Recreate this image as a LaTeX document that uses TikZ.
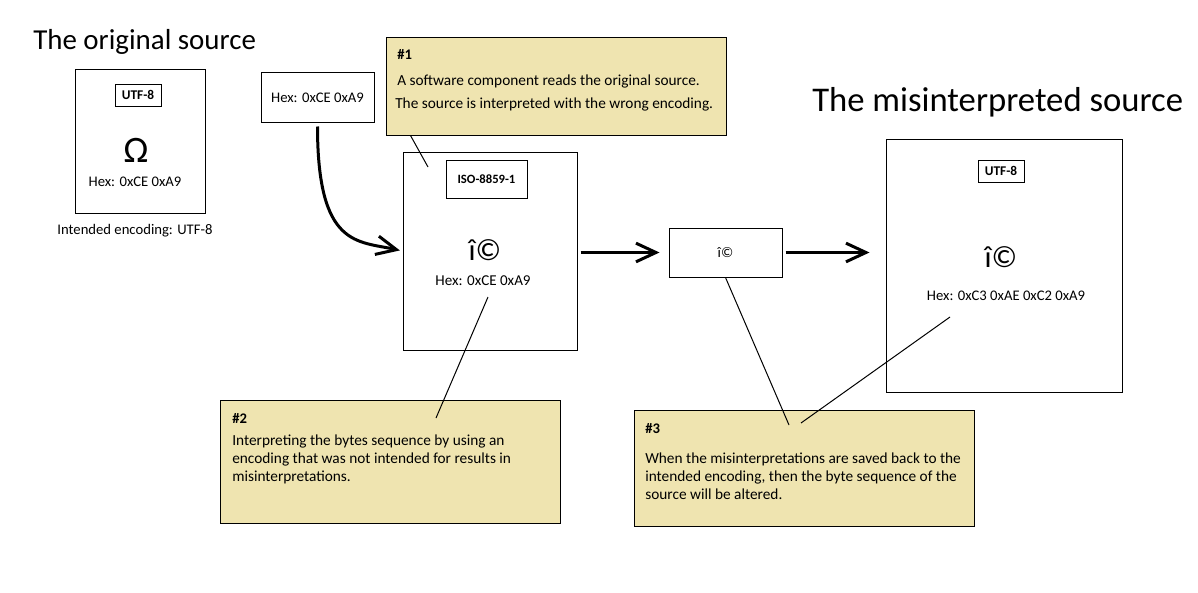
\documentclass[tikz,border=0pt]{standalone}
\usepackage{fontspec}
\setmainfont{Carlito}
\usetikzlibrary{arrows.meta, positioning}
\definecolor{notetan}{RGB}{239,228,176}

\begin{document}
\begin{tikzpicture}[x=0.75pt, y=-0.75pt,
    box/.style={draw, rectangle, line width=0.75pt, inner sep=0pt},
    lblbox/.style={box, font=\fontsize{10}{12}\selectfont\bfseries},
    notebox/.style={box, fill=notetan},
    txt/.style={font=\fontsize{11}{13}\selectfont, inner sep=0pt},
    notetxt/.style={font=\fontsize{11.5}{13.5}\selectfont, inner sep=0pt, anchor=north west, align=left},
    notehead/.style={font=\fontsize{11}{13}\selectfont\bfseries, inner sep=0pt, anchor=west},
    bigchar/.style={font=\fontsize{28}{30}\selectfont, inner sep=0pt},
    flow/.style={line width=2.25pt, -{Straight Barb[length=15pt, width=14pt]}},
    leader/.style={line width=0.75pt}]
    \useasboundingbox (0,0) rectangle (1198,592);

    \node (origtitle) [anchor=west, inner sep=0pt, font=\fontsize{21.7}{24}\selectfont] at (33,42) {The original source};
    \node (orig) [box, minimum width=97.5pt, minimum height=107.25pt] at (140,141.5) {};
    \node (origlbl) [lblbox, minimum width=34.5pt, minimum height=16.5pt] at (138,95) {UTF-8};
    \node (origchar) [bigchar] at (136,150) {Ω};
    \node (orighex) [txt] at (135,182) {Hex: 0xCE 0xA9};
    \node (intended) [txt] at (135,231) {Intended encoding: UTF-8};

    \node (hexbox) [box, txt, minimum width=84.75pt, minimum height=36.75pt] at (317.5,97.5) {Hex: 0xCE 0xA9};

    \node (note1) [notebox, minimum width=255pt, minimum height=72.75pt] at (556,86.5) {};
    \node (note1head) [notehead] at (397,54) {\#1};
    \node (note1a) [notetxt, anchor=west] at (397,81) {A software component reads the original source.};
    \node (note1b) [notetxt, anchor=west] at (395,104) {The source is interpreted with the wrong encoding.};

    \node (iso) [box, minimum width=130.5pt, minimum height=148.5pt] at (490,251) {};
    \node (isolbl) [lblbox, font=\fontsize{9.5}{12}\selectfont\bfseries, minimum width=60.75pt, minimum height=28.5pt] at (486.5,179) {ISO-8859-1};
    \node (isochar) [bigchar, font=\fontsize{23}{26}\selectfont] at (485,250) {î©};
    \node (isohex) [txt, font=\fontsize{11.3}{13}\selectfont] at (483,281) {Hex: 0xCE 0xA9};

    \node (mid) [box, txt, minimum width=84.75pt, minimum height=36.75pt] at (725.5,252.5) {î©};

    \node (restitle) [anchor=west, inner sep=0pt, font=\fontsize{26}{30}\selectfont] at (812,102) {The misinterpreted source};
    \node (res) [box, minimum width=177pt, minimum height=189.75pt] at (1004,265.5) {};
    \node (reslbl) [lblbox, minimum width=34.5pt, minimum height=16.5pt] at (1001,171) {UTF-8};
    \node (reschar) [bigchar, font=\fontsize{23}{26}\selectfont] at (1001,257) {î©};
    \node (reshex) [txt] at (1006,296) {Hex: 0xC3 0xAE 0xC2 0xA9};

    \node (note2) [notebox, minimum width=255pt, minimum height=92.25pt] at (390,461.5) {};
    \node (note2head) [notehead] at (232,418) {\#2};
    \node (note2txt) [notetxt] at (232,435) {Interpreting the bytes sequence by using an\\encoding that was not intended for results in\\misinterpretations.};

    \node (note3) [notebox, minimum width=255pt, minimum height=87pt] at (804,468) {};
    \node (note3head) [notehead] at (645,429) {\#3};
    \node (note3txt) [notetxt] at (645,453) {When the misinterpretations are saved back to the\\intended encoding, then the byte sequence of the\\source will be altered.};

    \draw [flow, shorten <=3pt, shorten >=2pt] (hexbox.south) .. controls +(0,125) and +(-45,-10) .. (iso.west);
    \draw [flow, shorten <=2.25pt, shorten >=6.75pt] (iso.east |- mid.west) -- (mid.west);
    \draw [flow, shorten <=2.25pt, shorten >=12pt] (mid.east) -- (mid.east -| res.west);

    \coordinate (n1end) at (428,167);
    \coordinate (n2start) at (436,418);
    \coordinate (n2end) at (488,297);
    \coordinate (n3starta) at (789,425);
    \coordinate (n3startb) at (801,423);
    \coordinate (n3endb) at (950,317);
    \draw [leader] ([xshift=18.75pt]note1.south west) -- (n1end);
    \draw [leader] (n2start) -- (n2end);
    \draw [leader] (n3starta) -- (mid.south);
    \draw [leader] (n3startb) -- (n3endb);
\end{tikzpicture}
\end{document}
